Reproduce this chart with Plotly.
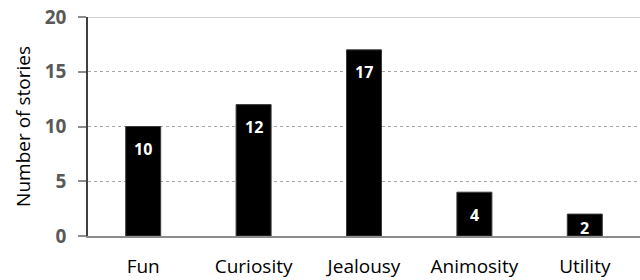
import plotly.graph_objects as go

categories = ["Fun", "Curiosity", "Jealousy", "Animosity", "Utility"]
stories = [10, 12, 17, 4, 2]
y_ticks = [0, 5, 10, 15, 20]

FONT = "Open Sans"
PX_PER_UNIT = 219 / 20.0
label_drop = 22.4 / PX_PER_UNIT
label_floor = 8.5 / PX_PER_UNIT
label_y = [max(v - label_drop, label_floor) for v in stories]

fig = go.Figure()
fig.add_trace(go.Bar(
    x=categories, y=stories,
    marker=dict(color="#000000", line=dict(color="#3a3a3a", width=1)),
    width=0.317, hoverinfo="skip",
))

for c, v, ly in zip(categories, stories, label_y):
    fig.add_annotation(x=c, y=ly, text=f"<b>{v}</b>", showarrow=False,
                       yanchor="middle", xanchor="center",
                       font=dict(family=FONT, size=16, color="#ffffff"))

# solid top boundary line under the dotted gridline at max
fig.add_shape(type="line", xref="paper", yref="y", x0=0, x1=1, y0=20, y1=20,
              line=dict(color="#a8a8a8", width=1), layer="below")

fig.update_layout(
    width=640, height=280,
    margin=dict(l=88, r=0, t=17, b=44),
    paper_bgcolor="white", plot_bgcolor="white",
    showlegend=False,
    bargap=0.683,
    font=dict(family=FONT, color="#000000"),
    xaxis=dict(
        automargin=False,
        showline=True, linecolor="#8c8c8c", linewidth=1.5,
        ticks="", showgrid=False,
        tickfont=dict(family=FONT, size=19, color="#000000"),
        ticklabelstandoff=12,
    ),
    yaxis=dict(
        automargin=False,
        range=[0, 20], tickvals=y_ticks,
        showline=True, linecolor="#404040", linewidth=1.5,
        ticks="outside", ticklen=8, tickcolor="#8c8c8c", tickwidth=1.5,
        showgrid=True, gridcolor="#a6a6a6", griddash="dot", gridwidth=1,
        zeroline=False,
        tickfont=dict(family=FONT, size=19, color="#595959", weight="bold"),
        ticklabelstandoff=8,
        title=dict(text="Number of stories", standoff=9,
                   font=dict(family=FONT, size=19, color="#000000")),
    ),
)

fig.write_html("out.html", config={"displayModeBar": False},
               post_script="document.body.style.margin='0';")
